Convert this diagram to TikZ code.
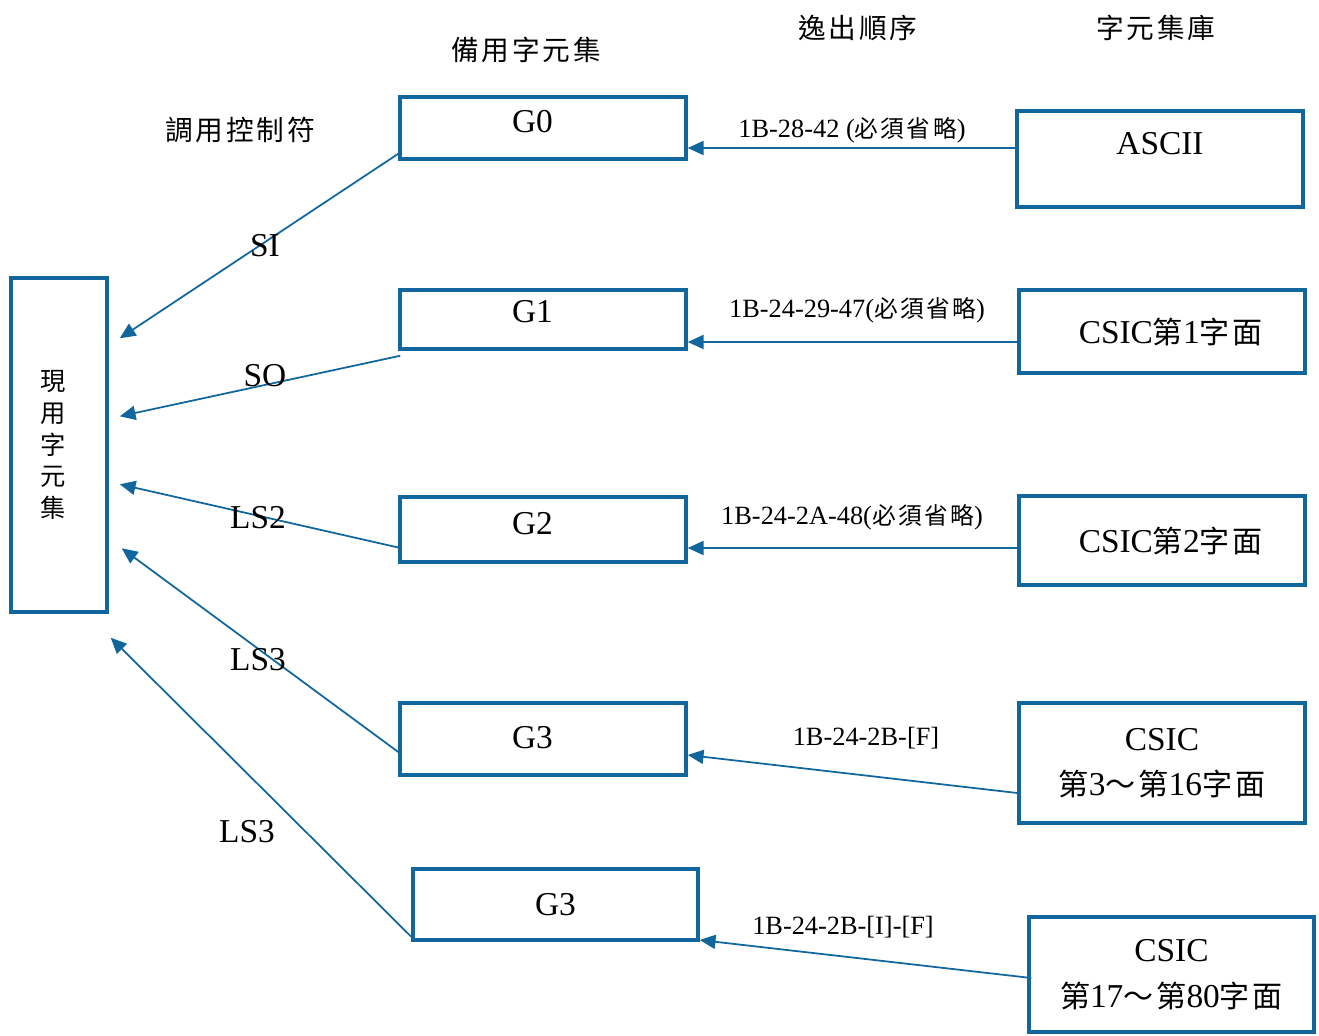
\documentclass[tikz,border=0pt]{standalone}
\usepackage{fontspec}
\setmainfont{Liberation Serif}
\newfontfamily\cjk[LetterSpace=10,Scale=0.9]{Noto Sans CJK TC}
\newcommand{\zh}[1]{{\cjk #1}}
\newcommand{\lft}[2][12pt]{\mbox{#2\hspace{#1}}}
\usetikzlibrary{calc}
\usetikzlibrary{arrows.meta}
\definecolor{ink}{RGB}{17,102,158}

\begin{document}
\begin{tikzpicture}[x=0.02cm,y=-0.02cm]
        \tikzset{setbox/.style={draw=ink,line width=2pt,inner sep=0pt,align=center,font=\fontsize{19}{26}\selectfont},
                 link/.style={draw=ink,line width=1pt,-{Triangle[length=9pt,width=8pt]}},
                 code/.style={inner sep=0pt,font=\fontsize{15}{18}\selectfont},
                 head/.style={inner sep=0pt,font=\fontsize{17.5}{20}\selectfont}}
        \useasboundingbox (0,0) rectangle (1319,1035);

        %headers
        \node[head] (hSpare) at (526,50) {\zh{備用字元集}};
        \node[head] (hEsc) at (858,28) {\zh{逸出順序}};
        \node[head] (hLib) at (1156,28) {\zh{字元集庫}};
        \node[head] (hCtrl) at (240,130) {\zh{調用控制符}};

        %current set
        \node[setbox,font=\fontsize{16}{18}\selectfont,minimum width=1.92cm,minimum height=6.68cm] (cur) at (59,445)
            {\lft[7pt]{\zh{現}}\\\lft[7pt]{\zh{用}}\\\lft[7pt]{\zh{字}}\\\lft[7pt]{\zh{元}}\\\lft[7pt]{\zh{集}}};

        %spare sets
        \node[setbox,minimum width=5.72cm,minimum height=1.24cm,text depth=7pt] (g0) at (543,128) {\lft{G0}};
        \node[setbox,minimum width=5.72cm,minimum height=1.18cm,text depth=9pt] (g1) at (543,319.5) {\lft{G1}};
        \node[setbox,minimum width=5.72cm,minimum height=1.30cm,text depth=7pt] (g2) at (543,529.5) {\lft{G2}};
        \node[setbox,minimum width=5.72cm,minimum height=1.44cm,text depth=2pt] (g3a) at (543,739) {\lft{G3}};
        \node[setbox,minimum width=5.70cm,minimum height=1.42cm] (g3b) at (555.5,904.5) {G3};

        %character set library
        \node[setbox,minimum width=5.72cm,minimum height=1.92cm,text height=13pt,text depth=18pt] (ascii) at (1160,159) {ASCII};
        \node[setbox,minimum width=5.72cm,minimum height=1.66cm] (csicA) at (1162,331.5) {\hspace{10pt}CSIC\zh{第}1\zh{字面}};
        \node[setbox,minimum width=5.72cm,minimum height=1.78cm] (csicB) at (1162,540.5) {\hspace{10pt}CSIC\zh{第}2\zh{字面}};
        \node[setbox,minimum width=5.72cm,minimum height=2.40cm] (csicC) at (1162,763) {CSIC\\\zh{第}3\zh{～第}16\zh{字面}};
        \node[setbox,minimum width=5.70cm,minimum height=2.30cm] (csicD) at (1171.5,974.5) {CSIC\\\zh{第}17\zh{～第}80\zh{字面}};

        %invoke
        \draw[link] ($(g0.south west)+(0,-7)$) -- ($(cur.north east)+(11,62)$);
        \draw[link] ($(g1.south west)+(2,5)$) -- ($(cur.north east)+(11,140)$);
        \draw[link] ($(g2.west)+(0,18)$) -- ($(cur.north east)+(11,208)$);
        \draw[link] ($(g3a.west)+(0,13)$) -- ($(cur.north east)+(13,272)$);
        \draw[link] ($(g3b.south west)+(0,-5)$) -- ($(cur.south east)+(2,24)$);

        \node[code,font=\fontsize{19}{22}\selectfont] (lSI) at (265,246) {SI};
        \node[code,font=\fontsize{19}{22}\selectfont] (lSO) at (265,376) {SO};
        \node[code,font=\fontsize{19}{22}\selectfont] (lLS2) at (258,518) {LS2};
        \node[code,font=\fontsize{19}{22}\selectfont] (lLSa) at (258,660) {LS3};
        \node[code,font=\fontsize{19}{22}\selectfont] (lLSb) at (247,832) {LS3};

        %escape sequences
        \draw[link] ($(ascii.west)+(0,-11)$) -- ($(g0.east)+(0,20)$);
        \draw[link] ($(csicA.west)+(0,10.5)$) -- ($(g1.east)+(0,22.5)$);
        \draw[link] ($(csicB.west)+(0,7.5)$) -- ($(g2.east)+(0,18.5)$);
        \draw[link] ($(csicC.west)+(0,30)$) -- ($(g3a.east)+(0,16)$);
        \draw[link] ($(csicD.west)+(4,3.5)$) -- ($(g3b.east)+(0,35.5)$);

        \node[code] (e0) at (852,130) {1B-28-42 (\zh{必須省略})};
        \node[code] (e1) at (857,310) {1B-24-29-47(\zh{必須省略})};
        \node[code] (e2) at (852,517) {1B-24-2A-48(\zh{必須省略})};
        \node[code] (e3) at (866,738) {1B-24-2B-[F]};
        \node[code] (e4) at (843,927) {1B-24-2B-[I]-[F]};
\end{tikzpicture}
\end{document}
